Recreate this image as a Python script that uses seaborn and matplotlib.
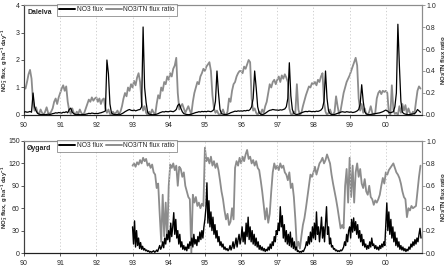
import numpy as np
import pandas as pd
import matplotlib
matplotlib.use("Agg")
import matplotlib.pyplot as plt
import seaborn as sns
from matplotlib.lines import Line2D

# ---------------- data ----------------
year_labels = ["90", "91", "92", "93", "94", "95", "96", "97", "98", "99", "00"]
year_ticks = [1990, 1991, 1992, 1993, 1994, 1995, 1996, 1997, 1998, 1999, 2000]

# Dalelva, semi-monthly values, 1990-2000
dal_ratio_1990 = [0.25,0.24,0.30,0.37,0.41,0.33,0.12,0.04,0.07,0.02,0.01,0.05,0.02,0.0,0.03,0.07,0.02,0.01,0.03,0.06,0.12,0.15,0.10,0.16]
dal_ratio_1991 = [0.20,0.24,0.27,0.22,0.26,0.12,0.04,0.01,0.06,0.02,0.0,0.03,0.01,0.05,0.02,0.0,0.02,0.06,0.10,0.14,0.12,0.16,0.13,0.15]
dal_ratio_1992 = [0.16,0.12,0.15,0.10,0.14,0.15,0.06,0.02,0.05,0.01,0.0,0.03,0.01,0.02,0.04,0.01,0.03,0.08,0.15,0.20,0.17,0.25,0.22,0.28]
dal_ratio_1993 = [0.25,0.31,0.27,0.34,0.38,0.30,0.12,0.04,0.08,0.02,0.0,0.03,0.01,0.05,0.02,0.0,0.10,0.18,0.15,0.25,0.22,0.30,0.28,0.35]
dal_ratio_1994 = [0.32,0.38,0.35,0.42,0.45,0.52,0.20,0.05,0.08,0.10,0.06,0.02,0.05,0.08,0.04,0.01,0.12,0.20,0.25,0.30,0.28,0.35,0.38,0.42]
dal_ratio_1995 = [0.40,0.44,0.46,0.48,0.40,0.18,0.06,0.02,0.04,0.01,0.0,0.02,0.05,0.01,0.0,0.03,0.15,0.12,0.22,0.28,0.30,0.35,0.38,0.40]
dal_ratio_1996 = [0.40,0.38,0.44,0.42,0.46,0.50,0.48,0.15,0.04,0.06,0.02,0.0,0.03,0.01,0.05,0.02,0.08,0.12,0.20,0.28,0.25,0.30,0.32,0.28]
dal_ratio_1997 = [0.32,0.35,0.30,0.36,0.33,0.37,0.34,0.30,0.06,0.01,0.0,0.03,0.02,0.28,0.05,0.0,0.02,0.08,0.13,0.18,0.22,0.26,0.25,0.29]
dal_ratio_1998 = [0.28,0.30,0.27,0.32,0.30,0.35,0.38,0.12,0.03,0.0,0.02,0.05,0.01,0.0,0.03,0.17,0.08,0.01,0.04,0.12,0.20,0.25,0.30,0.33]
dal_ratio_1999 = [0.36,0.40,0.44,0.48,0.52,0.45,0.15,0.04,0.10,0.02,0.06,0.01,0.0,0.03,0.08,0.02,0.0,0.02,0.15,0.20,0.22,0.19,0.22,0.21]
dal_ratio_2000 = [0.22,0.20,0.02,0.0,0.27,0.05,0.01,0.02,0.0,0.08,0.02,0.10,0.04,0.09,0.01,0.06,0.02,0.0,0.03,0.01,0.12,0.22,0.26,0.24]

dal_flux_1990 = [0.10,0.12,0.10,0.11,0.13,0.10,0.80,0.30,0.15,0.06,0.03,0.02,0.01,0.02,0.01,0.02,0.03,0.02,0.03,0.05,0.06,0.08,0.07,0.09]
dal_flux_1991 = [0.08,0.07,0.10,0.09,0.12,0.08,0.20,0.25,0.10,0.05,0.02,0.01,0.02,0.01,0.01,0.02,0.01,0.03,0.04,0.06,0.05,0.07,0.06,0.05]
dal_flux_1992 = [0.06,0.05,0.07,0.08,0.10,0.12,0.15,2.00,1.50,0.40,0.08,0.03,0.02,0.01,0.02,0.03,0.02,0.05,0.08,0.12,0.15,0.18,0.20,0.17]
dal_flux_1993 = [0.16,0.18,0.15,0.17,0.19,0.20,0.30,3.20,1.00,0.45,0.10,0.03,0.02,0.01,0.01,0.02,0.03,0.05,0.08,0.10,0.12,0.11,0.13,0.12]
dal_flux_1994 = [0.12,0.14,0.13,0.12,0.15,0.20,0.35,0.40,0.25,0.12,0.05,0.03,0.02,0.01,0.02,0.03,0.05,0.07,0.09,0.10,0.12,0.11,0.13,0.12]
dal_flux_1995 = [0.13,0.12,0.14,0.13,0.12,0.15,0.20,0.50,1.60,0.80,0.20,0.05,0.03,0.02,0.01,0.03,0.05,0.08,0.10,0.12,0.14,0.13,0.15,0.14]
dal_flux_1996 = [0.15,0.14,0.16,0.15,0.17,0.16,0.20,0.30,0.60,1.60,1.00,0.30,0.08,0.03,0.02,0.03,0.06,0.10,0.14,0.17,0.18,0.20,0.19,0.18]
dal_flux_1997 = [0.18,0.17,0.19,0.18,0.20,0.22,0.30,0.60,1.90,0.70,0.20,0.06,0.03,0.02,0.03,0.05,0.08,0.10,0.12,0.13,0.12,0.14,0.13,0.12]
dal_flux_1998 = [0.13,0.12,0.14,0.13,0.15,0.18,0.25,0.50,1.60,0.60,0.15,0.05,0.02,0.01,0.02,0.04,0.06,0.08,0.10,0.12,0.11,0.10,0.12,0.11]
dal_flux_1999 = [0.10,0.11,0.09,0.10,0.12,0.15,0.20,0.40,1.10,0.50,0.12,0.04,0.02,0.01,0.02,0.03,0.04,0.05,0.06,0.07,0.08,0.10,0.12,0.15]
dal_flux_2000 = [0.18,0.15,0.10,0.08,0.10,0.12,0.30,0.80,3.30,1.80,0.50,0.10,0.05,0.03,0.02,0.01,0.02,0.03,0.04,0.05,0.10,0.20,0.15,0.10]

# Øygard, ratio semi-monthly, flux ~10-daily, 1993-2000
oy_ratio_1993 = [0.78,0.80,0.77,0.81,0.79,0.83,0.80,0.85,0.82,0.84,0.78,0.80,0.76,0.79,0.72,0.70,0.58,0.62,0.35,0.10,0.52,0.15,0.45,0.12]
oy_ratio_1994 = [0.60,0.79,0.76,0.80,0.74,0.78,0.60,0.77,0.75,0.68,0.72,0.60,0.55,0.50,0.48,0.0,0.52,0.45,0.50,0.42,0.45,0.40,0.44,0.42]
oy_ratio_1995 = [0.94,0.82,0.85,0.80,0.86,0.78,0.82,0.76,0.80,0.74,0.65,0.55,0.48,0.38,0.30,0.35,0.25,0.28,0.40,0.30,0.76,0.82,0.78,0.85]
oy_ratio_1996 = [0.80,0.86,0.82,0.88,0.92,0.84,0.86,0.80,0.83,0.78,0.82,0.76,0.74,0.65,0.55,0.43,0.30,0.40,0.27,0.35,0.55,0.72,0.80,0.75]
oy_ratio_1997 = [0.78,0.74,0.80,0.76,0.78,0.72,0.70,0.65,0.72,0.58,0.62,0.50,0.30,0.05,0.10,0.04,0.15,0.25,0.31,0.40,0.50,0.60,0.70,0.68]
oy_ratio_1998 = [0.72,0.77,0.70,0.75,0.80,0.82,0.85,0.80,0.83,0.88,0.84,0.80,0.70,0.62,0.55,0.48,0.40,0.31,0.22,0.25,0.22,0.60,0.75,0.45]
oy_ratio_1999 = [0.85,0.50,0.78,0.45,0.72,0.80,0.68,0.75,0.62,0.58,0.66,0.55,0.52,0.60,0.50,0.48,0.43,0.47,0.45,0.48,0.52,0.60,0.67,0.62]
oy_ratio_2000 = [0.72,0.70,0.74,0.76,0.78,0.80,0.76,0.72,0.70,0.67,0.62,0.55,0.50,0.48,0.32,0.40,0.38,0.42,0.40,0.41,0.42,0.55,0.68,0.78]

oy_flux_1993 = [35,12,43,8,30,10,20,6,14,5,9,4,6,3,4,2,3,1,2,1,2,3,1,2,4,2,6,10,5,8,15,7,20,12,25,18]
oy_flux_1994 = [30,15,40,22,35,54,25,45,20,30,12,25,8,15,5,10,4,8,3,12,6,15,10,20,8,25,12,18,10,22,15,28,18,30,20,35]
oy_flux_1995 = [45,60,94,40,70,35,55,30,48,25,38,20,30,15,22,10,15,8,12,5,8,4,6,3,5,10,4,8,15,6,12,20,8,18,25,12]
oy_flux_1996 = [20,35,15,28,12,40,22,48,18,35,15,30,12,25,10,20,8,15,5,10,4,8,3,6,2,5,3,8,4,12,6,15,10,22,15,30]
oy_flux_1997 = [25,40,30,62,35,50,20,38,15,30,12,25,10,28,8,20,6,15,4,8,2,3,1,2,1,3,2,5,8,15,10,22,12,28,15,35]
oy_flux_1998 = [20,40,18,55,25,35,15,30,48,20,35,15,40,62,25,35,12,20,8,10,5,6,3,4,2,3,2,4,3,5,8,15,10,25,15,30]
oy_flux_1999 = [35,20,45,28,47,30,42,25,38,20,30,15,25,10,18,8,12,5,10,6,15,8,20,10,12,6,10,5,8,4,10,6,12,8,15,10]
oy_flux_2000 = [40,67,30,55,25,45,20,35,15,28,10,20,8,15,5,10,4,8,3,6,2,5,3,8,5,12,8,15,10,18,12,20,15,25,33,20]

dal_ratio_years = {1990: dal_ratio_1990, 1991: dal_ratio_1991, 1992: dal_ratio_1992, 1993: dal_ratio_1993,
                   1994: dal_ratio_1994, 1995: dal_ratio_1995, 1996: dal_ratio_1996, 1997: dal_ratio_1997,
                   1998: dal_ratio_1998, 1999: dal_ratio_1999, 2000: dal_ratio_2000}
dal_flux_years = {1990: dal_flux_1990, 1991: dal_flux_1991, 1992: dal_flux_1992, 1993: dal_flux_1993,
                  1994: dal_flux_1994, 1995: dal_flux_1995, 1996: dal_flux_1996, 1997: dal_flux_1997,
                  1998: dal_flux_1998, 1999: dal_flux_1999, 2000: dal_flux_2000}
oy_ratio_years = {1993: oy_ratio_1993, 1994: oy_ratio_1994, 1995: oy_ratio_1995, 1996: oy_ratio_1996,
                  1997: oy_ratio_1997, 1998: oy_ratio_1998, 1999: oy_ratio_1999, 2000: oy_ratio_2000}
oy_flux_years = {1993: oy_flux_1993, 1994: oy_flux_1994, 1995: oy_flux_1995, 1996: oy_flux_1996,
                 1997: oy_flux_1997, 1998: oy_flux_1998, 1999: oy_flux_1999, 2000: oy_flux_2000}


def to_frame(d):
    xs, ys = [], []
    for yr, vals in d.items():
        n = len(vals)
        for i, v in enumerate(vals):
            xs.append(yr + i / n)
            ys.append(v)
    return pd.DataFrame({"t": xs, "v": ys})


df_dal_ratio = to_frame(dal_ratio_years)
df_dal_flux = to_frame(dal_flux_years)
df_oy_ratio = to_frame(oy_ratio_years)
df_oy_flux = to_frame(oy_flux_years)

# ---------------- style ----------------
sns.set_style("white")
plt.rcParams["font.family"] = ["Liberation Sans", "DejaVu Sans"]
plt.rcParams["mathtext.fontset"] = "custom"
plt.rcParams["mathtext.rm"] = "Liberation Sans:bold"
plt.rcParams["mathtext.bf"] = "Liberation Sans:bold"
plt.rcParams["mathtext.default"] = "bf"

BLACK = "#000000"
GRAY = "#8c8c8c"
SPINE_GRAY = "#8c8c8c"
FS = 5.0
LFS = 4.8
YLFS = 4.3

fig = plt.figure(figsize=(4.48, 2.69), dpi=100)
W, H = 448, 269
AX_L, AX_R = 24, 422
AX_W = AX_R - AX_L
ax_top = fig.add_axes([AX_L / W, 1 - 115 / H, AX_W / W, 110 / H])
ax_bot = fig.add_axes([AX_L / W, 1 - 253 / H, AX_W / W, 112 / H])


def style_panel(ax, axr, ylim, yticks, name):
    ax.set_xlim(1990, 2001)
    ax.set_ylim(*ylim)
    ax.set_yticks(yticks)
    ax.set_yticklabels([str(v) for v in yticks])
    ax.set_xticks(year_ticks)
    ax.set_xticklabels(year_labels)
    axr.set_ylim(0, 1.0)
    axr.set_yticks([0, 0.2, 0.4, 0.6, 0.8, 1.0])
    axr.set_yticklabels(["0.0", "0.2", "0.4", "0.6", "0.8", "1.0"])
    for a in (ax, axr):
        a.tick_params(labelsize=FS, length=2.0, width=0.6, pad=1.0, direction="out")
        a.set_xlabel("")
    ax.tick_params(axis="x", pad=3, bottom=True, color="#404040")
    ax.tick_params(axis="y", left=True, color="#404040")
    axr.tick_params(axis="y", right=True, color=SPINE_GRAY)
    for a in (ax, axr):
        for s in ("top", "right"):
            a.spines[s].set_color(SPINE_GRAY)
            a.spines[s].set_linewidth(0.8)
        a.spines["left"].set_color("#404040")
        a.spines["bottom"].set_color("#202020")
        a.spines["left"].set_linewidth(0.8)
        a.spines["bottom"].set_linewidth(0.8)
    ax.grid(False)
    axr.grid(False)
    for xt in year_ticks[1:]:
        ax.axvline(xt, color="#c8c8c8", lw=0.6, ls=(0, (1.5, 2.5)), zorder=0)
    ax.set_ylabel(r"NO$_3^{-}$ flux, g ha$^{-1}$ day$^{-1}$", fontsize=YLFS, fontweight="bold")
    ax.yaxis.set_label_coords((10.0 - AX_L) / AX_W, 0.5)
    axr.set_ylabel(r"NO$_3$/TN flux ratio", fontsize=YLFS, fontweight="bold", rotation=90)
    axr.yaxis.set_label_coords((439.5 - AX_L) / AX_W, 0.5)
    ax.text(0.008, 0.935, name, transform=ax.transAxes, fontsize=FS, fontweight="bold",
            ha="left", va="center", zorder=10)
    handles = [Line2D([], [], color=BLACK, lw=1.4), Line2D([], [], color=GRAY, lw=1.4)]
    leg = ax.legend(handles, ["NO3 flux", "NO3/TN flux ratio"], ncol=2, fontsize=LFS,
                    loc="upper left", bbox_to_anchor=((57 - AX_L) / AX_W, 1.01), frameon=True,
                    fancybox=False, handlelength=2.4, handletextpad=0.2, columnspacing=0.5,
                    borderpad=0.35, borderaxespad=0.0)
    leg.get_frame().set_edgecolor("#707070")
    leg.get_frame().set_linewidth(0.6)
    leg.set_zorder(20)


# top panel: Dalelva
axr_top = ax_top.twinx()
sns.lineplot(data=df_dal_ratio, x="t", y="v", ax=axr_top, color=GRAY, lw=1.3, estimator=None, zorder=2)
sns.lineplot(data=df_dal_flux, x="t", y="v", ax=ax_top, color=BLACK, lw=0.9, estimator=None, zorder=3)
ax_top.set_zorder(axr_top.get_zorder() + 1)
ax_top.patch.set_visible(False)
style_panel(ax_top, axr_top, (0, 4), [0, 1, 2, 3, 4], "Dalelva")

# bottom panel: Øygard
axr_bot = ax_bot.twinx()
sns.lineplot(data=df_oy_ratio, x="t", y="v", ax=axr_bot, color=GRAY, lw=1.3, estimator=None, zorder=2)
sns.lineplot(data=df_oy_flux, x="t", y="v", ax=ax_bot, color=BLACK, lw=1.0, estimator=None, zorder=3)
ax_bot.set_zorder(axr_bot.get_zorder() + 1)
ax_bot.patch.set_visible(False)
style_panel(ax_bot, axr_bot, (0, 150), [0, 30, 60, 90, 120, 150], "Øygard")

fig.savefig("out.png", dpi=100)
